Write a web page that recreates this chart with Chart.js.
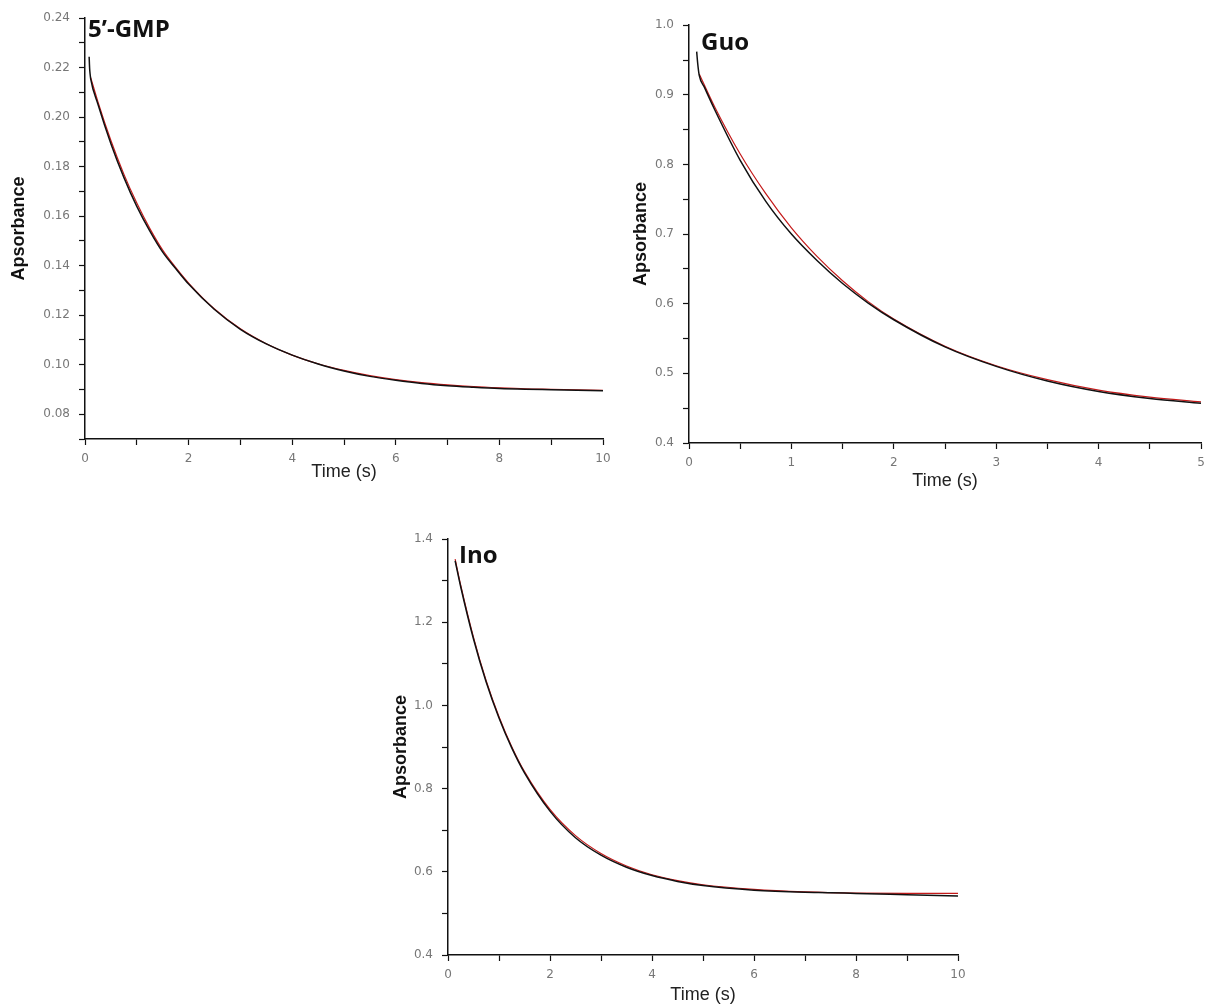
<!DOCTYPE html>
<html>
<head>
<meta charset="utf-8">
<script src="https://cdnjs.cloudflare.com/ajax/libs/Chart.js/4.4.1/chart.umd.min.js"></script>
<style>
	body {
		margin: 0;
		background: #fff;
		overflow: hidden;
	}
	canvas {
		position: absolute;
	}
	#c1 { left: 0px; top: 2px; }
	#c2 { left: 620px; top: 9px; }
	#c3 { left: 380px; top: 523px; }
</style>
</head>
<body>

<canvas id="c1" width="620" height="486"></canvas>
<canvas id="c2" width="600" height="491"></canvas>
<canvas id="c3" width="600" height="484"></canvas>

<script>
// 5'-GMP (black = measured, red = fit)
const gmpTimeData = [0.08,0.09,0.10,0.11,0.25,0.5,0.75,1,1.25,1.5,1.75,2,2.5,3,3.5,4,4.5,5,5.5,6,6.5,7,7.5,8,8.5,9,9.5,10];
const gmpData = [0.2244,0.2195,0.2172,0.2155,0.2052,0.1893,0.1757,0.1640,0.1541,0.1455,0.1389,0.1326,0.1223,0.1143,0.1084,0.1039,0.1003,0.0975,0.0953,0.0937,0.0924,0.0915,0.0909,0.0904,0.0901,0.0899,0.0897,0.0895];
const gmpTimeFit = [0.11,0.25,0.5,0.75,1,1.25,1.5,1.75,2,2.5,3,3.5,4,4.5,5,5.5,6,6.5,7,7.5,8,8.5,9,9.5,10];
const gmpFit = [0.2160,0.2062,0.1906,0.1770,0.1653,0.1551,0.1463,0.1393,0.1330,0.1225,0.1145,0.1085,0.1039,0.1004,0.0977,0.0956,0.0940,0.0928,0.0919,0.0912,0.0907,0.0903,0.0901,0.0899,0.0897];

// Guo
const guoTimeData = [0.075,0.085,0.1,0.15,0.25,0.5,0.75,1,1.25,1.5,1.75,2,2.5,3,3.5,4,4.5,5];
const guoData = [0.962,0.945,0.928,0.911,0.879,0.806,0.747,0.700,0.662,0.629,0.601,0.577,0.538,0.510,0.489,0.474,0.464,0.457];
const guoTimeFit = [0.1,0.25,0.5,0.75,1,1.25,1.5,1.75,2,2.5,3,3.5,4,4.5,5];
const guoFit = [0.930,0.883,0.815,0.758,0.709,0.668,0.633,0.603,0.578,0.539,0.511,0.491,0.476,0.466,0.459];

// Ino
const inoTimeData = [0.14,0.25,0.5,0.75,1,1.25,1.5,2,2.5,3,3.5,4,4.5,5,6,7,7.5,8,9,10];
const inoData = [1.348,1.285,1.160,1.056,0.970,0.898,0.838,0.746,0.682,0.640,0.611,0.591,0.577,0.567,0.556,0.551,0.550,0.548,0.545,0.542];
const inoTimeFit = [0.14,0.25,0.5,0.75,1,1.25,1.5,2,2.5,3,3.5,4,4.5,5,6,7,8,9,10];
const inoFit = [1.352,1.289,1.164,1.059,0.973,0.901,0.841,0.750,0.687,0.644,0.614,0.593,0.579,0.569,0.558,0.552,0.549,0.548,0.548];

function pts(ts, vs) {
	return ts.map((t, i) => ({x: t, y: vs[i]}));
}

// panel name in the upper left corner of the plot
const panelLabel = {
	id: 'panelLabel',
	afterDraw(chart, args, opts) {
		if (!opts.text) return;
		const ctx = chart.ctx, a = chart.chartArea;
		ctx.save();
		ctx.font = 'bold 24px "Open Sans"';
		ctx.fillStyle = '#111';
		ctx.textBaseline = 'alphabetic';
		ctx.fillText(opts.text, a.left + opts.dx, a.top + opts.dy);
		ctx.restore();
	}
};
Chart.register(panelLabel);

const tickFont = { family: '"DejaVu Sans"', size: 12 };
const titleFamily = '"Liberation Sans", Arial';

function axisStyle() {
	return {
		grid: { display: true, drawOnChartArea: false, drawTicks: true, tickLength: 6, tickColor: '#111', tickWidth: 1.2 },
		border: { display: true, color: '#111', width: 1.5 }
	};
}

function makeChart(id, c) {
	const xs = axisStyle(), ys = axisStyle();
	new Chart(document.getElementById(id), {
		type: 'scatter',
		data: {
			datasets: [
				{ data: pts(c.td, c.d), borderColor: '#111', borderWidth: 1.5, showLine: true, pointRadius: 0, cubicInterpolationMode: 'monotone' },
				{ data: pts(c.tf, c.f), borderColor: '#c41a1a', borderWidth: 1.2, showLine: true, pointRadius: 0, cubicInterpolationMode: 'monotone' }
			]
		},
		options: {
			responsive: false,
			animation: false,
			devicePixelRatio: 1,
			layout: { padding: c.pad },
			plugins: {
				legend: { display: false },
				tooltip: { enabled: false },
				panelLabel: c.label
			},
			scales: {
				x: Object.assign(xs, {
					type: 'linear', min: c.xmin, max: c.xmax,
					afterFit: s => { s.height = c.xh; },
					ticks: {
						stepSize: c.xstep, autoSkip: false, maxRotation: 0, padding: 7,
						color: '#777', font: tickFont,
						callback: v => c.xlab(v)
					},
					title: { display: true, text: 'Time (s)', color: '#222', font: { family: titleFamily, size: 18 }, padding: { top: 0, bottom: c.xtp } }
				}),
				y: Object.assign(ys, {
					type: 'linear', min: c.ymin, max: c.ymax,
					afterFit: s => { s.width = c.yw; },
					ticks: {
						stepSize: c.ystep, autoSkip: false, padding: 9,
						color: '#777', font: tickFont,
						callback: v => c.ylab(v)
					},
					title: { display: true, text: 'Apsorbance', color: '#111', font: { family: titleFamily, size: 18, weight: 'bold' }, padding: { top: c.ytp, bottom: 0 } }
				})
			}
		}
	});
}

makeChart('c1', {
	td: gmpTimeData, d: gmpData, tf: gmpTimeFit, f: gmpFit,
	xmin: 0, xmax: 10, xstep: 1, ymin: 0.07, ymax: 0.24, ystep: 0.01,
	xlab: v => (Math.round(v) % 2 === 0 ? String(Math.round(v)) : ''),
	ylab: v => (Math.round(v * 100) % 2 === 0 ? v.toFixed(2) : ''),
	pad: { top: 16, right: 17, left: 0, bottom: 0 },
	xh: 49, yw: 85, xtp: 5, ytp: 8,
	label: { text: '5\u2019-GMP', dx: 3, dy: 19 }
});

makeChart('c2', {
	td: guoTimeData, d: guoData, tf: guoTimeFit, f: guoFit,
	xmin: 0, xmax: 5, xstep: 0.5, ymin: 0.4, ymax: 1.0, ystep: 0.05,
	xlab: v => (Math.abs(v - Math.round(v)) < 1e-6 ? String(Math.round(v)) : ''),
	ylab: v => (Math.abs(v * 10 - Math.round(v * 10)) < 1e-6 ? v.toFixed(1) : ''),
	pad: { top: 16, right: 19, left: 0, bottom: 0 },
	xh: 57, yw: 69, xtp: 8, ytp: 10,
	label: { text: 'Guo', dx: 12, dy: 25 }
});

makeChart('c3', {
	td: inoTimeData, d: inoData, tf: inoTimeFit, f: inoFit,
	xmin: 0, xmax: 10, xstep: 1, ymin: 0.4, ymax: 1.4, ystep: 0.1,
	xlab: v => (Math.round(v) % 2 === 0 ? String(Math.round(v)) : ''),
	ylab: v => (Math.round(v * 10) % 2 === 0 ? v.toFixed(1) : ''),
	pad: { top: 16, right: 22, left: 0, bottom: 0 },
	xh: 52, yw: 68, xtp: 1, ytp: 10,
	label: { text: 'Ino', dx: 11, dy: 24 }
});
</script>
</body>
</html>
